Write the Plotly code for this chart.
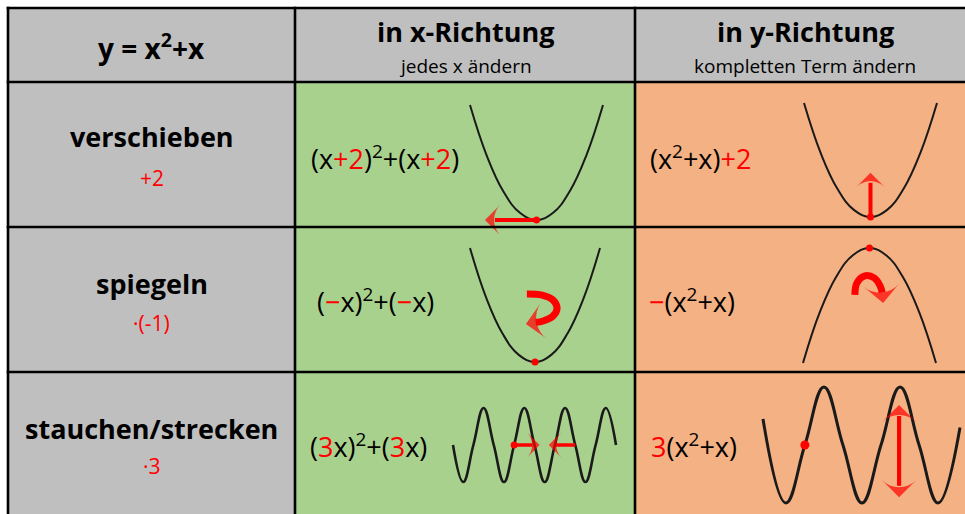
import plotly.graph_objects as go

W, H = 965, 514
FONT = "Open Sans"
RED = "#ff0000"
INK = "#1a1a1a"

# table text
header_titles = ["y = x<sup>2</sup>+x", "in x-Richtung", "in y-Richtung"]
header_subtitles = ["", "jedes x ändern", "kompletten Term ändern"]
row_names = ["verschieben", "spiegeln", "stauchen/strecken"]
row_ops = ["+2", "·(-1)", "·3"]


def red(s):
    return f"<span style='color:{RED}'>{s}</span>"


x_terms = [
    f"(x{red('+2')})<sup>2</sup>+(x{red('+2')})",
    f"({red('−')}x)<sup>2</sup>+({red('−')}x)",
    f"({red('3')}x)<sup>2</sup>+({red('3')}x)",
]
y_terms = [
    f"(x<sup>2</sup>+x){red('+2')}",
    f"{red('−')}(x<sup>2</sup>+x)",
    f"{red('3')}(x<sup>2</sup>+x)",
]

# curves
parab_x = [-2, -1.5, -1, -0.5, 0, 0.5, 1, 1.5, 2]
parab_y = [4, 2.25, 1, 0.25, 0, 0.25, 1, 2.25, 4]
parab_flip_y = [-4, -2.25, -1, -0.25, 0, -0.25, -1, -2.25, -4]
wave_narrow_x = [0, 1, 2, 3, 4, 5, 6, 7, 8, 9, 10, 11, 12, 13, 14, 15, 16]
wave_narrow_y = [0, -1, 0, 1, 0, -1, 0, 1, 0, -1, 0, 1, 0, -1, 0, 1, 0]
wave_tall_x = [-1.2, 0, 1, 2, 3, 4, 5, 6, 7, 8, 9.15]
wave_tall_y = [0.45, -1, 0, 1, 0, -1, 0, 1, 0, -1, 0.3]

# red marks: (path x, path y, tip x, tip y)
shift_x_arrow = ([0, -1.25], [0, 0], -1.55, 0)
shift_y_arrow = ([0, 0], [0, 1.2], 0, 1.55)
mirror_x_arrow = ([-0.25, 0.22, 0.55, 0.68, 0.55, 0.25, 0.02],
                  [2.39, 2.35, 2.18, 1.89, 1.61, 1.44, 1.39], -0.28, 1.33)
mirror_y_arrow = ([-0.44, -0.38, -0.14, 0.14, 0.32, 0.38],
                  [-1.63, -1.22, -0.97, -1.04, -1.32, -1.55], 0.41, -1.91)
squeeze_right = ([6, 7.8], [0, 0], 8.5, 0)
squeeze_left = ([12, 10.1], [0, 0], 9.4, 0)
stretch_up = ([5.95, 5.95], [-0.7, 0.5], 5.95, 0.69)
stretch_down = ([5.95, 5.95], [0.5, -0.7], 5.95, -0.9)
dots = {1: (0, 0), 2: (0, 0), 3: (0, 0), 4: (0, 0), 5: (6, 0), 6: (1, 0)}

# table geometry (pixels)
col_edges = [8, 295, 635, 975]
row_edges = [8, 82, 227, 372, 520]
GRAY, GREEN, ORANGE = "#bfbfbf", "#a9d18e", "#f4b183"


def px(x):
    return x / W


def py(y):
    return 1 - y / H


fig = go.Figure()
shapes = []
for r in range(4):
    for c in range(3):
        color = GRAY if (r == 0 or c == 0) else (GREEN if c == 1 else ORANGE)
        shapes.append(dict(type="rect", xref="paper", yref="paper",
                           x0=px(col_edges[c]), x1=px(col_edges[c + 1]),
                           y0=py(row_edges[r + 1]), y1=py(row_edges[r]),
                           fillcolor=color, line_width=0, layer="below"))
for y in row_edges:
    shapes.append(dict(type="line", xref="paper", yref="paper", x0=px(col_edges[0] - 1.3),
                       x1=px(col_edges[-1]), y0=py(y), y1=py(y),
                       line=dict(color="black", width=2.6)))
for x in col_edges:
    shapes.append(dict(type="line", xref="paper", yref="paper", x0=px(x), x1=px(x),
                       y0=py(row_edges[-1]), y1=py(row_edges[0] - 1.3),
                       line=dict(color="black", width=2.6)))

annotations = []


def add_text(x, y, text, size, anchor="center"):
    annotations.append(dict(xref="paper", yref="paper", x=px(x), y=py(y), text=text,
                            showarrow=False, xanchor=anchor, yanchor="middle",
                            font=dict(family=FONT, size=size, color="black")))


col_centers = [151.5, 465, 805]
add_text(col_centers[0], 46, f"<b>{header_titles[0]}</b>", 28)
for c in (1, 2):
    add_text(col_centers[c], 31, f"<b>{header_titles[c]}</b>", 27)
    add_text(col_centers[c], 66, header_subtitles[c], 19)

name_y = [137, 283, 428]
op_y = [178, 323, 466]
term_y = [157, 300, 445]
x_term_left = [309, 315, 308]
y_term_left = [648, 647, 649]
for i in range(3):
    add_text(col_centers[0], name_y[i], f"<b>{row_names[i]}</b>", 27)
    add_text(col_centers[0], op_y[i], red(row_ops[i]), 21)
    add_text(x_term_left[i], term_y[i], x_terms[i], 27, "left")
    add_text(y_term_left[i], term_y[i], y_terms[i], 27, "left")

# mini plots: pixel box of the data range
boxes = {
    1: ((470, 105, 603, 220), (-2, 2), (0, 4)),
    2: ((804, 103, 937, 217), (-2, 2), (0, 4)),
    3: ((470, 248, 600, 362), (-2, 2), (0, 4)),
    4: ((803, 248, 936, 363), (-2, 2), (-4, 0)),
    5: ((453, 408, 616, 482), (0, 16), (-1, 1)),
    6: ((763, 387, 960, 503), (-1.2, 9.15), (-1, 1)),
}
layout_axes = {}
PAD = 14
for i, ((l, t, r, b), (x0, x1), (y0, y1)) in boxes.items():
    sx = (x1 - x0) / (r - l)
    sy = (y1 - y0) / (b - t)
    pl, pr = min(PAD, l), min(PAD, W - r)
    pt, pb = min(PAD, t), min(PAD, H - b)
    sfx = "" if i == 1 else str(i)
    layout_axes["xaxis" + sfx] = dict(domain=[px(l - pl), px(r + pr)],
                                      range=[x0 - pl * sx, x1 + pr * sx],
                                      visible=False, anchor="y" + sfx, fixedrange=True)
    layout_axes["yaxis" + sfx] = dict(domain=[py(b + pb), py(t - pt)],
                                      range=[y0 - pb * sy, y1 + pt * sy],
                                      visible=False, anchor="x" + sfx, fixedrange=True)


def ax(i):
    sfx = "" if i == 1 else str(i)
    return dict(xaxis="x" + sfx, yaxis="y" + sfx)


def add_curve(i, xs, ys, width):
    fig.add_trace(go.Scatter(x=xs, y=ys, mode="lines",
                             line=dict(color=INK, width=width, shape="spline", smoothing=1.2),
                             hoverinfo="skip", **ax(i)))


def add_arrow(i, arrow, width, head, spline=False):
    xs, ys, tx, ty = arrow
    line = dict(color=RED, width=width)
    if spline:
        line.update(shape="spline", smoothing=1)
    fig.add_trace(go.Scatter(x=xs, y=ys, mode="lines", line=line, hoverinfo="skip", **ax(i)))
    fig.add_trace(go.Scatter(x=[xs[-1], tx], y=[ys[-1], ty], mode="markers",
                             marker=dict(symbol="arrow-wide", angleref="previous", size=[0, head],
                                         color=RED, line_width=0),
                             hoverinfo="skip", **ax(i)))


add_curve(1, parab_x, parab_y, 2)
add_curve(2, parab_x, parab_y, 2)
add_curve(3, parab_x, parab_y, 2)
add_curve(4, parab_x, parab_flip_y, 2)
add_curve(5, wave_narrow_x, wave_narrow_y, 2.6)
add_curve(6, wave_tall_x, wave_tall_y, 3)

add_arrow(1, shift_x_arrow, 4, 22)
add_arrow(2, shift_y_arrow, 4, 20)
add_arrow(3, mirror_x_arrow, 7, 26, spline=True)
add_arrow(4, mirror_y_arrow, 7, 25, spline=True)
add_arrow(5, squeeze_right, 3.5, 18)
add_arrow(5, squeeze_left, 3.5, 18)
add_arrow(6, stretch_up, 4, 24)
add_arrow(6, stretch_down, 4, 24)

for i, (dx, dy) in dots.items():
    fig.add_trace(go.Scatter(x=[dx], y=[dy], mode="markers",
                             marker=dict(color=RED, size=9 if i == 6 else 7),
                             hoverinfo="skip", **ax(i)))

fig.update_layout(
    width=W,
    height=H,
    margin=dict(l=0, r=0, t=0, b=0),
    paper_bgcolor="white",
    plot_bgcolor="rgba(0,0,0,0)",
    showlegend=False,
    shapes=shapes,
    annotations=annotations,
    **layout_axes,
)

# drop the default body margin so the figure fills the window exactly
fig.write_html("out.html", config=dict(displayModeBar=False),
               post_script="document.body.style.margin='0';document.body.style.overflow='hidden';")
